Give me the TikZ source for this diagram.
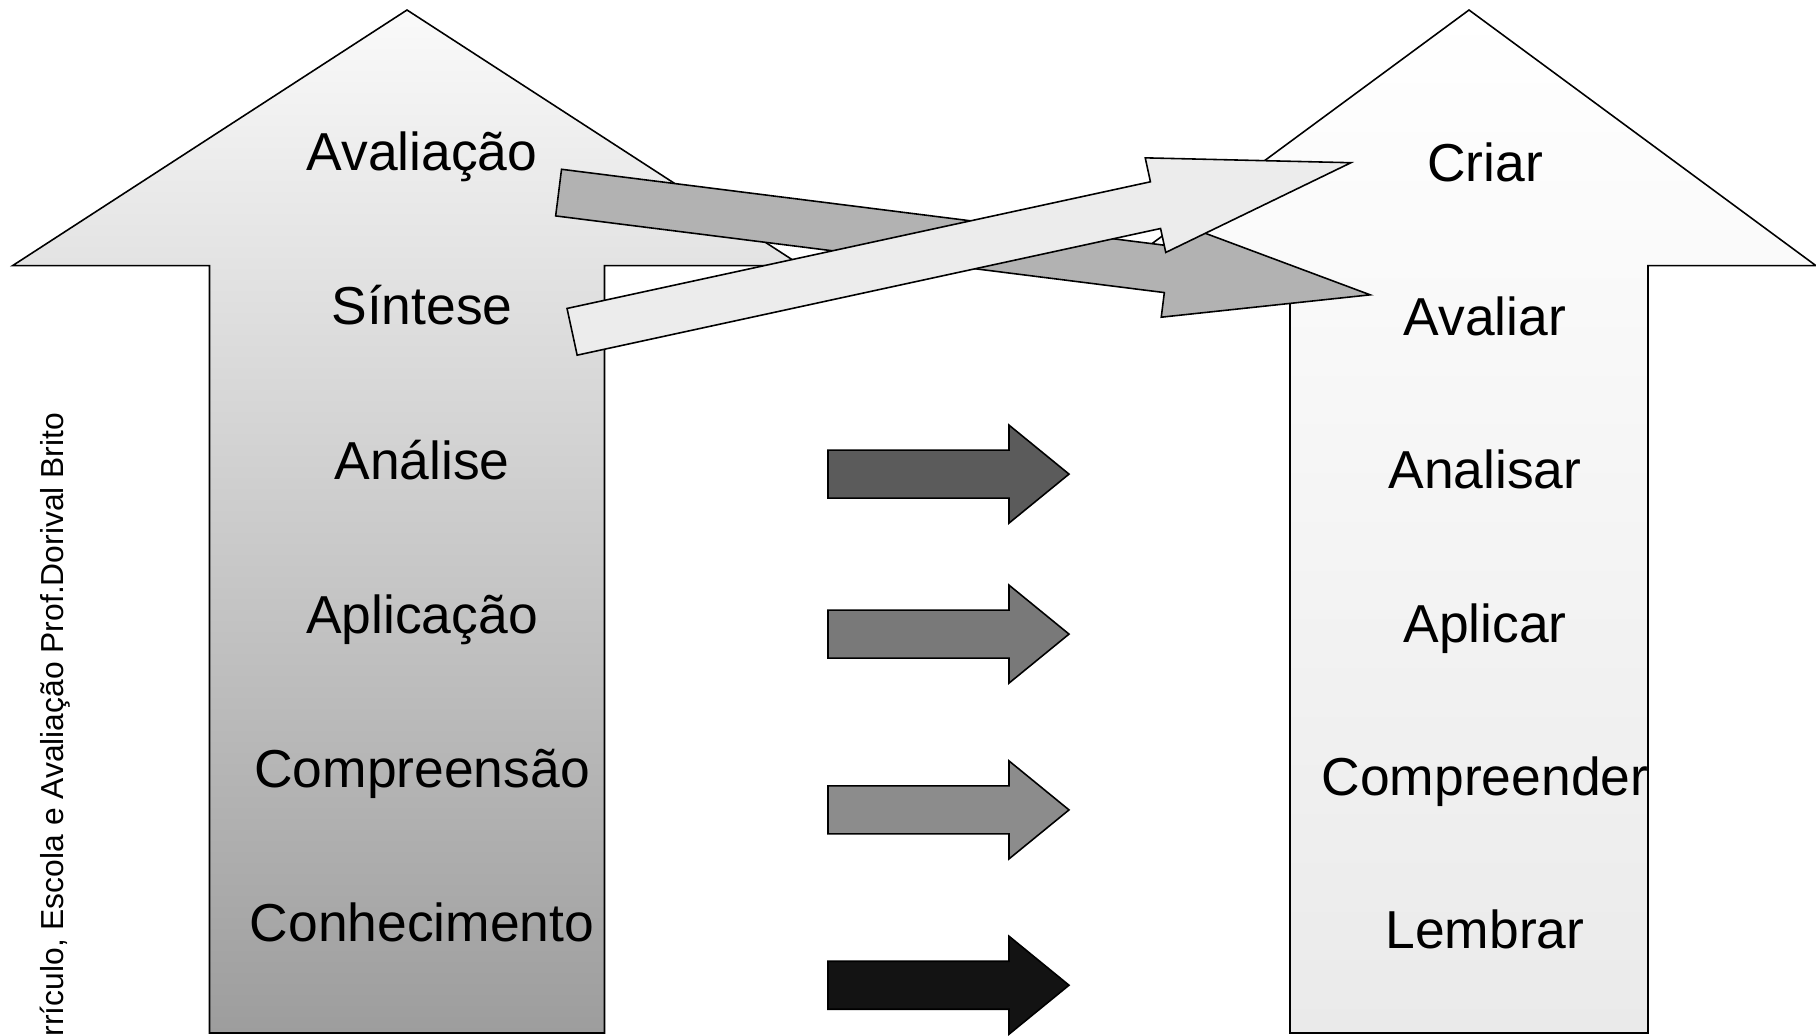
\documentclass[tikz,border=0pt]{standalone}
\usepackage{fontspec}
\setmainfont{Liberation Sans}

\definecolor{oldtop}{HTML}{FAFAFA}
\definecolor{oldbottom}{HTML}{9D9D9D}
\definecolor{newtop}{HTML}{FFFFFF}
\definecolor{newbottom}{HTML}{EAEAEA}
\definecolor{linkgrey}{HTML}{B2B2B2}
\definecolor{linkwhite}{HTML}{ECECEC}
\definecolor{stepA}{HTML}{5B5B5B}
\definecolor{stepB}{HTML}{797979}
\definecolor{stepC}{HTML}{8C8C8C}
\definecolor{stepD}{HTML}{131313}

\begin{document}
\begin{tikzpicture}[font=\fontsize{15.2}{18}\selectfont, line width=0.45pt,
  level/.style={anchor=base, inner sep=0}]

% canvas
\useasboundingbox (0,0) rectangle (18.16,10.35);
\clip (0,0) rectangle (18.16,10.35);

% old taxonomy (left arrow)
\draw[top color=oldtop, bottom color=oldbottom]
(4.07,10.25) -- (8.015,7.693) -- (6.045,7.693) -- (6.045,0.02)
-- (2.095,0.02) -- (2.095,7.693) -- (0.125,7.693) -- cycle ;

% revised taxonomy (right arrow)
\draw[top color=newtop, bottom color=newbottom]
(14.69,10.25) -- (18.16,7.693) -- (16.48,7.693) -- (16.48,0.02)
-- (12.90,0.02) -- (12.90,7.693) -- (11.22,7.693) -- cycle ;

% levels
\foreach \name [count=\i] in {Avaliação,Síntese,Análise,Aplicação,Compreensão,Conhecimento}
\node[level] (old\i) at (4.22,{8.643-1.542*(\i-1)}) {\name} ;
\foreach \name [count=\i] in {Criar,Avaliar,Analisar,Aplicar,Compreender,Lembrar}
\node[level] (new\i) at (14.85,{8.532-1.534*(\i-1)}) {\name} ;

% credit
\node[rotate=90, anchor=base east, inner sep=0, font=\fontsize{9.05}{11}\selectfont]
(credit) at (0.63,6.23) {Currículo, Escola e Avaliação Prof.Dorival Brito} ;

% block arrows
\foreach \col/\y in {stepA/5.609, stepB/4.009, stepC/2.251, stepD/0.498}
\draw[fill=\col] (8.28,\y+0.24) -- (10.09,\y+0.24) -- (10.09,\y+0.49) -- (10.69,\y)
-- (10.09,\y-0.49) -- (10.09,\y-0.24) -- (8.28,\y-0.24) -- cycle ;

% Avaliacao -> Avaliar
\begin{scope}[shift={(5.586,8.424)}, rotate=-7.18]
\draw[fill=linkgrey] (0,0.235) -- (6.135,0.235) -- (6.135,0.483) -- (8.18,0)
-- (6.135,-0.483) -- (6.135,-0.235) -- (0,-0.235) -- cycle ;
\end{scope}

% Sintese -> Criar
\begin{scope}[shift={(5.721,7.032)}, rotate=12.25]
\draw[fill=linkwhite] (0,0.239) -- (5.97,0.239) -- (5.97,0.484) -- (7.97,0)
-- (5.97,-0.484) -- (5.97,-0.239) -- (0,-0.239) -- cycle ;
\end{scope}

\end{tikzpicture}
\end{document}
